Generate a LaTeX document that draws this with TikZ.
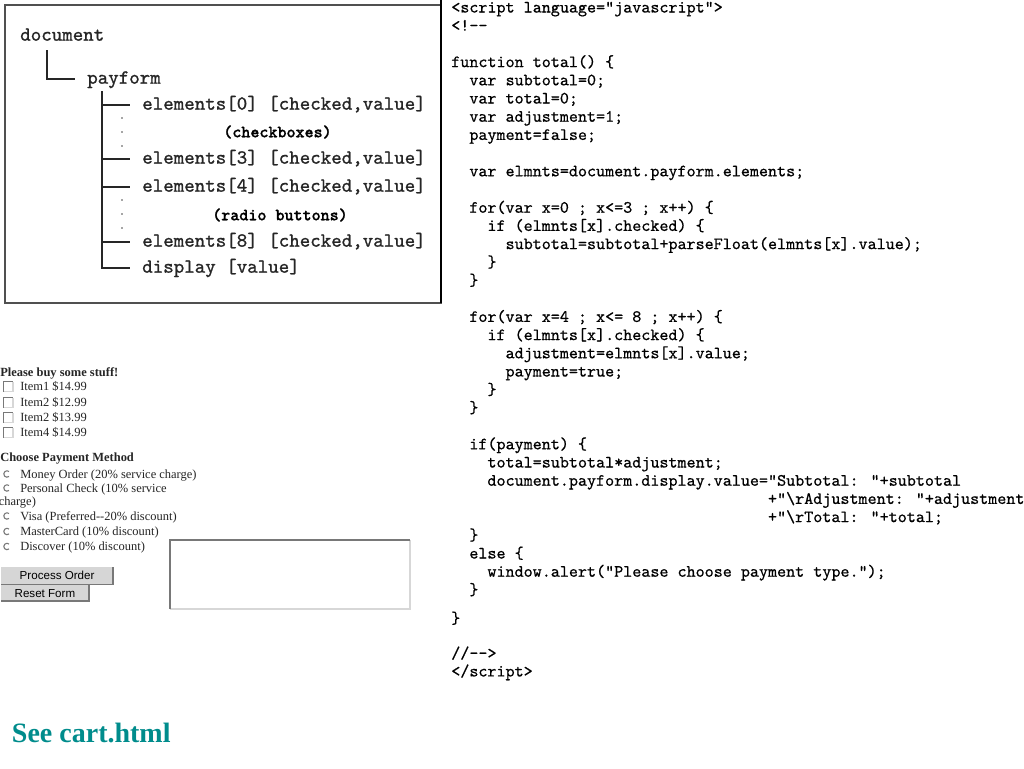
\documentclass[tikz,border=0pt]{standalone}
\usepackage{fontspec}
\setmainfont{Liberation Serif}
\newfontfamily\guifont{Liberation Sans}
\newfontfamily\treemono{lmmono10-regular.otf}[FakeBold=1]
\newfontfamily\codemono{lmmono10-regular.otf}[FakeBold=0.6]
\newfontfamily\notemono{lmmonolt10-bold.otf}[FakeBold=1]
\definecolor{boxgray}{RGB}{80,80,80}
\definecolor{cartteal}{RGB}{0,140,140}
\definecolor{btnface}{RGB}{214,214,214}
\definecolor{btnshade}{RGB}{120,120,120}
\definecolor{fieldedge}{RGB}{215,215,215}

\tikzset{
  tree/.style={font=\fontsize{15}{17}\selectfont\treemono, anchor=west, inner xsep=9pt, inner ysep=0pt,
    text height=9pt, text depth=2pt, text=black!85},
  treeline/.style={line width=1.1pt, black!85},
  note/.style={font=\fontsize{12.9}{15}\selectfont\notemono, inner sep=0pt},
  code/.style={font=\fontsize{12.93}{15}\selectfont\codemono, anchor=base west, inner sep=0pt},
  form/.style={font=\fontsize{9.35}{11}\selectfont, anchor=base west, inner sep=0pt, text=black!85},
  formhead/.style={form, font=\fontsize{9.35}{11}\selectfont\bfseries},
  button/.style={fill=btnface, font=\guifont\fontsize{8.7}{10}\selectfont, anchor=north west, inner sep=0pt},
}

\begin{document}
\begin{tikzpicture}[x=0.75pt,y=-0.75pt]
  \fill[white] (0,0) rectangle (1024,768);
  \useasboundingbox (0,0) rectangle (1024,768);

  % object tree
  \draw[boxgray, line width=1.5pt] (5,5) rectangle (440.7,302.7);
  \draw[black, line width=1.5pt] (440.7,0) -- (440.7,302.7);

  \node[tree] (doc) at (8,36) {document};
  \node[tree] (pay) at (75,79) {payform};
  \node[tree] (el0) at (130,105) {elements[0] [checked,value]};
  \node[tree] (el3) at (130,159) {elements[3] [checked,value]};
  \node[tree] (el4) at (130,187) {elements[4] [checked,value]};
  \node[tree] (el8) at (130,242) {elements[8] [checked,value]};
  \node[tree] (disp) at (130,268) {display [value]};
  \node[note] (chk) at (277.5,132) {(checkboxes)};
  \node[note] (rad) at (280,215) {(radio buttons)};

  \coordinate (docstem) at (47,50);
  \coordinate (paystem) at (102,91);
  \draw[treeline] (docstem) |- (pay.west);
  \draw[treeline] (paystem) |- (disp.west);
  \foreach \n in {el0,el3,el4,el8}
    \draw[treeline] (paystem |- \n.west) -- (\n.west);
  \foreach \y in {118,132,146,200,214,228}
    \fill[black!70] (122,\y) circle[radius=0.8];

  % the form
  \node[formhead] (buy) at (0,376.7) {Please buy some stuff!};
  \foreach \y/\txt [count=\k] in {390/{Item1 \$14.99},406/{Item2 \$12.99},421/{Item2 \$13.99},436/{Item4 \$14.99}} {
    \node[form] (item\k) at (20,\y) {\txt};
    \fill[white] (3.5,\y-8.5) rectangle (13,\y+1.5);
    \draw[fieldedge, line width=0.8pt] (3.5,\y+1.5) -| (13,\y-8.5);
    \draw[btnshade, line width=0.8pt] (3.5,\y+1.5) |- (13,\y-8.5);
  }

  \node[formhead] (pick) at (0,461.7) {Choose Payment Method};
  \foreach \y/\txt [count=\k] in {478/{Money Order (20\% service charge)},492/{Personal Check (10\% service},
      520/{Visa (Preferred-{}-20\% discount)},535.5/{MasterCard (10\% discount)},550.5/{Discover (10\% discount)}} {
    \node[form] (pay\k) at (20,\y) {\txt};
    \draw[btnshade, line width=0.8pt] (7,\y-4) ++(50:3.2) arc[start angle=50,end angle=310,radius=3.2];
  }
  \node[form] (wrap) at (-1.5,505.5) {charge)};

  \node[button, minimum width=83.8pt, minimum height=12.6pt] (proc) at (1,567) {Process Order};
  \draw[btnshade, line width=1.2pt] (proc.north east) -- (proc.south east) -- (proc.south west);
  \node[button, minimum width=65.5pt, minimum height=11.8pt] (reset) at (1,585) {Reset Form};
  \draw[btnshade, line width=1.2pt] (reset.north east) -- (reset.south east) -- (reset.south west);

  \node[anchor=north west, inner sep=0pt, minimum width=179.5pt, minimum height=51.2pt] (total) at (170,540) {};
  \draw[fieldedge, line width=1.2pt] (total.south west) -- (total.south east) -- (total.north east);
  \draw[btnshade, line width=1.2pt] (total.south west) -- (total.north west) -- (total.north east);

  % script
  \foreach \row/\ind/\txt [count=\k] in {
      1/0/{<script language="javascript">},
      2/0/{<!--},
      4/0/{function total() \{},
      5/2/{var subtotal=0;},
      6/2/{var total=0;},
      7/2/{var adjustment=1;},
      8/2/{payment=false;},
      10/2/{var elmnts=document.payform.elements;},
      12/2/{for(var x=0 ; x<=3 ; x++) \{},
      13/4/{if (elmnts[x].checked) \{},
      14/6/{subtotal=subtotal+parseFloat(elmnts[x].value);},
      15/4/{\}},
      16/2/{\}},
      18/2/{for(var x=4 ; x<= 8 ; x++) \{},
      19/4/{if (elmnts[x].checked) \{},
      20/6/{adjustment=elmnts[x].value;},
      21/6/{payment=true;},
      22/4/{\}},
      23/2/{\}},
      25/2/{if(payment) \{},
      26/4/{total=subtotal*adjustment;},
      27/4/{document.payform.display.value="Subtotal: "+subtotal},
      28/35/{+"\textbackslash rAdjustment: "+adjustment},
      29/35/{+"\textbackslash rTotal: "+total;},
      30/2/{\}},
      31/2/{else \{},
      32/4/{window.alert("Please choose payment type.");},
      33/2/{\}},
      34.57/0/{\}},
      36.49/0/{//-->},
      37.48/0/{</script>}}
    \node[code] (line\k) at (451+9.05*\ind,12.5+18.2*\row-18.2) {\txt};

  \node[font=\bfseries\fontsize{21}{24}\selectfont, text=cartteal, anchor=base west, inner sep=0pt] (cart) at (11.7,742.7) {See cart.html};
\end{tikzpicture}
\end{document}
